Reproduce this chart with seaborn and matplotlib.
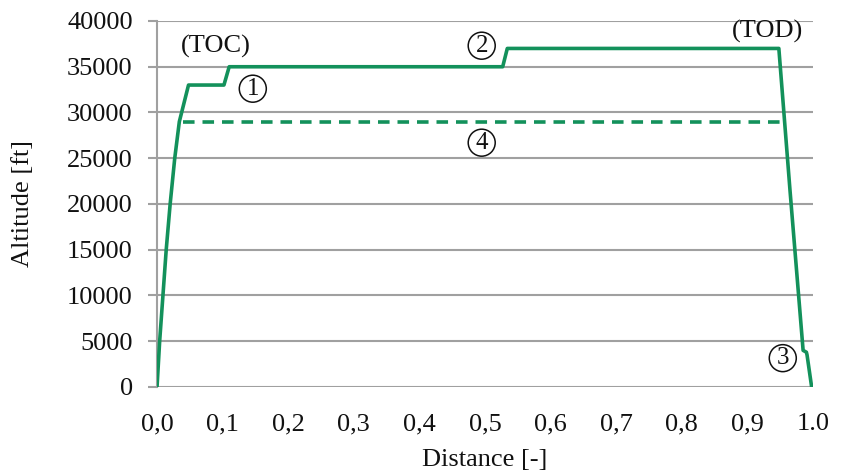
import matplotlib
matplotlib.use("Agg")
import matplotlib.pyplot as plt
import seaborn as sns
import pandas as pd

# Flight profile (solid)
distance = [0.0, 0.004, 0.009, 0.014, 0.020, 0.027, 0.034, 0.048, 0.102, 0.110,
            0.527, 0.534, 0.948, 0.965, 0.985, 0.990, 0.991, 0.998]
altitude = [0, 5000, 10000, 15000, 20000, 25000, 29000, 33000, 33000, 35000,
            35000, 37000, 37000, 21500, 4000, 3800, 3500, 0]

# Reference level (dashed)
ref_distance = [0.040, 0.952]
ref_altitude = [29000, 29000]

xticks = [0.0, 0.1, 0.2, 0.3, 0.4, 0.5, 0.6, 0.7, 0.8, 0.9, 1.0]
xticklabels = ["0,0", "0,1", "0,2", "0,3", "0,4", "0,5", "0,6", "0,7", "0,8", "0,9", "1.0"]
yticks = [0, 5000, 10000, 15000, 20000, 25000, 30000, 35000, 40000]

labels = [("(TOC)", 0.089, 37200), ("(TOD)", 0.931, 38900)]
markers = [("1", 0.146, 32600), ("2", 0.495, 37300),
           ("4", 0.495, 26700), ("3", 0.954, 3150)]

sns.set_theme(style="white")
plt.rcParams['font.family'] = ['Liberation Serif', 'DejaVu Serif', 'DejaVu Sans']

green = "#13915b"
grid = "#a0a0a0"
txtc = "#111111"

fig = plt.figure(figsize=(8.42, 4.75), dpi=100)
ax = fig.add_axes([0.1865, 0.1853, 0.7790, 0.7705])

df = pd.DataFrame({"Distance": distance, "Altitude": altitude})
dref = pd.DataFrame({"Distance": ref_distance, "Altitude": ref_altitude})
sns.lineplot(data=df, x="Distance", y="Altitude", ax=ax, color=green, lw=2.6,
             sort=False, estimator=None, zorder=3)
sns.lineplot(data=dref, x="Distance", y="Altitude", ax=ax, color=green, lw=2.6,
             linestyle=(0, (3.2, 2.2)), sort=False, estimator=None, zorder=3)

ax.set_xlim(0, 1.0)
ax.set_ylim(0, 40000)
ax.set_xticks(xticks)
ax.set_xticklabels(xticklabels)
ax.set_yticks(yticks)
ax.set_yticklabels([str(v) for v in yticks])
ax.yaxis.grid(True, color=grid, lw=1.5)
ax.set_axisbelow(True)
for s in ["top", "right", "bottom"]:
    ax.spines[s].set_visible(False)
ax.spines["left"].set_color(grid)
ax.spines["left"].set_linewidth(1.5)
ax.tick_params(axis="y", which="both", left=True, length=6.5, width=1.5, color=grid,
               labelsize=19, pad=11)
ax.tick_params(axis="x", bottom=False, labelsize=19, pad=13)
for lab in ax.get_xticklabels() + ax.get_yticklabels():
    lab.set_color(txtc)

ax.set_xlabel("Distance [-]", fontsize=19, color=txtc)
ax.set_ylabel("Altitude [ft]", fontsize=19, color=txtc)
ax.xaxis.set_label_coords(0.5, -0.199)
ax.xaxis.label.set_verticalalignment("center")
ax.yaxis.set_label_coords(-0.204, 0.5)
ax.yaxis.label.set_verticalalignment("center")

for txt, x, y in labels:
    ax.text(x, y, txt, ha="center", va="center", fontsize=19, color=txtc, zorder=4)
for txt, x, y in markers:
    ax.text(x, y, txt, ha="center", va="center", fontsize=18, color=txtc, zorder=4,
            bbox=dict(boxstyle="circle,pad=0.1", fc="none", ec=txtc, lw=1.1))

fig.savefig("out.png", dpi=100)
